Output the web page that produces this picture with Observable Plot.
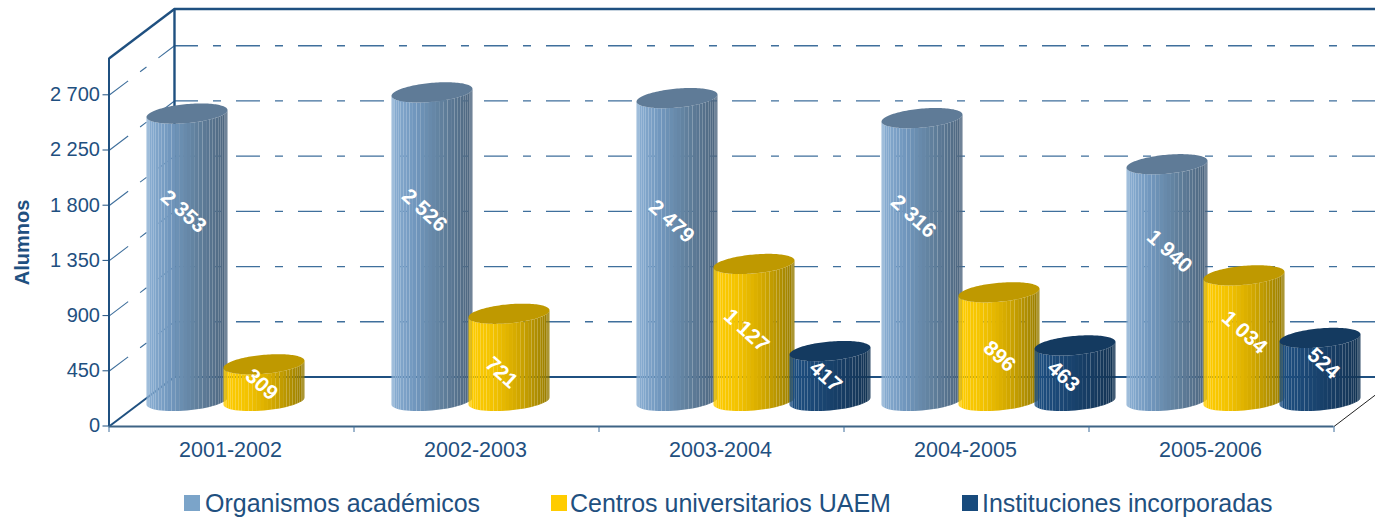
<!DOCTYPE html>
<html>
<head>
<meta charset="utf-8">
<script src="https://cdn.jsdelivr.net/npm/d3@7"></script>
<script src="https://cdn.jsdelivr.net/npm/@observablehq/plot@0.6"></script>
<style>
html,body{margin:0;padding:0;background:#fff;overflow:hidden;width:1375px;height:517px}
#legend{position:relative;height:27px;font:25px "Liberation Sans",Arial,sans-serif;color:#1f5080}
#legend .item{position:absolute;top:0;line-height:27px;white-space:nowrap}
#legend .sw{position:absolute;top:5px;width:16px;height:16px}
svg{display:block;font-family:"Liberation Sans",Arial,sans-serif}
</style>
</head>
<body>
<div id="chart"></div>
<div id="legend"></div>
<script>
const categories = ["2001-2002","2002-2003","2003-2004","2004-2005","2005-2006"];
const seriesNames = ["Organismos académicos","Centros universitarios UAEM","Instituciones incorporadas"];
const organismos = [2353,2526,2479,2316,1940];
const centros = [309,721,1127,896,1034];
const instituciones = [null,null,417,463,524];
const yTicks = [0,450,900,1350,1800,2250,2700];
const gridTicks = [450,900,1350,1800,2250,2700];
// where each value label sits on its cylinder (value along y, shift along x)
const labelHeights = [[1753,1762,1672,1713,1427],[342,440,783,571,767],[null,null,408,408,514]];
const labelShifts = [[-.016,-.033,-.024,-.037,.008],[-.012,-.033,-.033,0,0],[0,0,-.02,-.049,.012]];

const ink = "#1f5080", gridInk = "#3f6f9c";
const depthX = 0.2673, depthY = 404;
const floorLevel = 204, topDrop = 10, rx = 0.1653, ry = 77.5, tilt = 28.5;
const slotOffset = [.3222,.6365,.9467];
const sideStops = [
  {d:[0,.3,.6,1], r:["#8aafd3","#7096bd","#62829f","#4c647d"], top:"#5f7b97"},
  {d:[0,.3,.6,1], r:["#ffcc00","#f3c300","#d4aa00","#957a00"], top:"#bf9900"},
  {d:[0,.3,.6,1], r:["#1d4f82","#1b4876","#173e66","#143453"], top:"#143a60"}
];
const series = [organismos,centros,instituciones];
const fmt = d3.formatLocale({thousands:" ",grouping:[3],decimal:".",currency:["",""]}).format(",d");

const STEPS = 32, TOP = 64;
const sides = [], tops = [], labels = [];
categories.forEach((c,i) => series.forEach((vals,s) => {
  const v = vals[i];
  if (v == null) return;
  const cx = i + slotOffset[s] - .0018, level = floorLevel + v - topDrop, tone = d3.scaleLinear(sideStops[s].d, sideStops[s].r);
  const id = `${i}-${s}`;
  for (let k = 0; k < STEPS; k++) {
    const a = Math.PI * (1 - k/STEPS), b = Math.PI * (1 - (k+1)/STEPS);
    const t = (1 + (Math.cos(a)+Math.cos(b))/2) / 2;
    const fill = tone(t);
    for (const th of [a,b]) sides.push({
      key:`${id}-${k}`, x:cx + rx*Math.cos(th),
      y1:floorLevel + tilt*Math.cos(th) - ry*Math.sin(th),
      y2:level + tilt*Math.cos(th) - ry*Math.sin(th), fill
    });
  }
  for (let k = 0; k <= TOP; k++) {
    const th = Math.PI * (1 - k/TOP);
    tops.push({
      key:id, x:cx + rx*Math.cos(th),
      y1:level + tilt*Math.cos(th) - ry*Math.sin(th),
      y2:level + tilt*Math.cos(th) + ry*Math.sin(th),
      fill:sideStops[s].top
    });
  }
  labels.push({x:cx + labelShifts[s][i], y:labelHeights[s][i], text:fmt(v)});
}));

const plot = Plot.plot({
  width:1375, height:490,
  marginLeft:108.5, marginRight:41.5, marginTop:58, marginBottom:64,
  x:{type:"linear", domain:[0,5]},
  y:{type:"linear", domain:[0,3000]},
  color:{type:"identity"},
  marks:[
    Plot.ruleY(gridTicks,{y:d=>d+depthY, x1:depthX, x2:5.17, stroke:gridInk, strokeWidth:1.3, strokeDasharray:"24,15,8,15"}),
    Plot.link(gridTicks,{x1:0, y1:d=>d, x2:depthX, y2:d=>d+depthY, stroke:gridInk, strokeWidth:1.1, strokeDasharray:"24,15,8,15"}),
    Plot.ruleY([3000+depthY],{x1:depthX, x2:5.17, stroke:ink, strokeWidth:2.4}),
    Plot.ruleY([depthY],{x1:depthX, x2:5.17, stroke:ink, strokeWidth:2}),
    Plot.ruleX([depthX],{y1:depthY, y2:3000+depthY, stroke:ink, strokeWidth:2.4}),
    Plot.ruleX([0],{y1:0, y2:3000, stroke:ink, strokeWidth:2}),
    Plot.link([0],{x1:0, y1:3000, x2:depthX, y2:3000+depthY, stroke:ink, strokeWidth:2.4}),
    Plot.link([0],{x1:0, y1:0, x2:depthX, y2:depthY, stroke:ink, strokeWidth:2}),
    Plot.link([0],{x1:5, y1:0, x2:5.17, y2:depthY*.64, stroke:"#222", strokeWidth:1}),
    Plot.ruleY([0],{x1:0, x2:5, stroke:"#3f6485", strokeWidth:2}),
    Plot.axisY(yTicks,{tickSize:6, tickPadding:3, fontSize:20, color:ink, label:null, tickFormat:fmt, textStroke:"none", dy:-.5}),
    Plot.axisX(d3.range(6),{tickSize:6, color:"#3f6f9c", label:null, tickFormat:()=>""}),
    Plot.axisX(categories.map((c,i)=>i+.5),{tickSize:0, tickPadding:15, fontSize:21.5, color:ink, label:null, tickFormat:d=>categories[d-.5], dx:-1}),
    Plot.text(["Alumnos"],{x:-.352, y:1500, text:d=>d, rotate:-90, fontSize:20, fontWeight:"bold", fill:ink}),
    Plot.areaY(sides,{x:"x", y1:"y1", y2:"y2", z:"key", fill:"fill"}),
    Plot.areaY(tops,{x:"x", y1:"y1", y2:"y2", z:"key", fill:"fill"}),
    Plot.text(labels,{x:"x", y:"y", text:"text", rotate:42, fontSize:21, fontWeight:"bold", fill:"#fff"})
  ]
});
document.getElementById("chart").append(plot);

const swatches = ["#7ba4c9","#ffcc00","#174a7c"];
const swLeft = [184,551,962], txtLeft = [205,570,982];
const legend = document.getElementById("legend");
seriesNames.forEach((n,i) => {
  const sw = document.createElement("div");
  sw.className = "sw"; sw.style.left = swLeft[i]+"px"; sw.style.background = swatches[i];
  const t = document.createElement("div");
  t.className = "item"; t.style.left = txtLeft[i]+"px"; t.textContent = n;
  legend.append(sw,t);
});
</script>
</body>
</html>
